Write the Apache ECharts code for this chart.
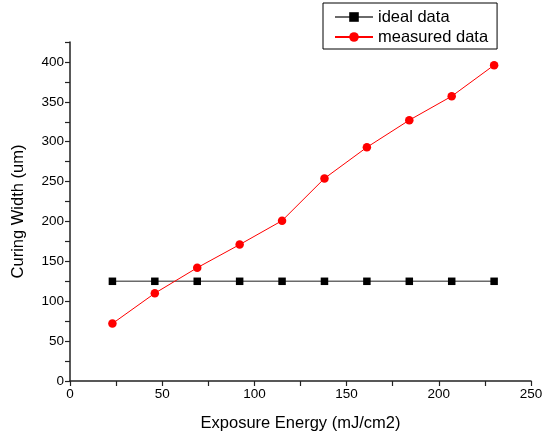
<!DOCTYPE html>
<html>
<head>
<meta charset="utf-8">
<script src="https://cdn.jsdelivr.net/npm/echarts@6/dist/echarts.min.js"></script>
<style>
  html, body { margin: 0; padding: 0; background: #fff; }
  #chart { width: 549px; height: 439px; }
</style>
</head>
<body>
<div id="chart"></div>
<script>
// exposure energy (mJ/cm2)
const energy = [23, 46, 69, 92, 115, 138, 161, 184, 207, 230]
const idealWidth = [125, 125, 125, 125, 125, 125, 125, 125, 125, 125]
const measuredWidth = [72, 110, 142, 171, 201, 254, 293, 327, 357, 396]
const xTicks = [0, 50, 100, 150, 200, 250]
const yTicks = [0, 50, 100, 150, 200, 250, 300, 350, 400]

const font = 'Liberation Sans, Arial, sans-serif'
const axisColor = '#222'

const chart = echarts.init(document.getElementById('chart'))

const pairs = (ys) => energy.map((x, i) => [x, ys[i]])

const option = {
  animation: false,
  backgroundColor: '#fff',
  textStyle: { fontFamily: font },
  grid: { left: 70, right: 18, top: 42, bottom: 58 },
  legend: {
    left: 323,
    top: 3,
    orient: 'vertical',
    padding: [5, 9, 3, 11],
    itemGap: 2,
    itemWidth: 38,
    itemHeight: 12,
    borderColor: '#000',
    borderWidth: 1,
    textStyle: { fontSize: 16.5, lineHeight: 18, color: '#000', fontFamily: font },
    data: ['ideal data', 'measured data']
  },
  xAxis: {
    type: 'value',
    min: 0,
    max: 250,
    interval: 50,
    name: 'Exposure Energy (mJ/cm2)',
    nameLocation: 'middle',
    nameGap: 34,
    nameTextStyle: { fontSize: 16.5, color: '#000', fontFamily: font },
    axisLine: { show: true, onZero: false, lineStyle: { color: axisColor, width: 1.5 } },
    axisTick: { show: true, inside: false, length: 5, lineStyle: { color: axisColor, width: 1.2 } },
    minorTick: { show: true, splitNumber: 2, length: 5, lineStyle: { color: axisColor, width: 1.2 } },
    splitLine: { show: false },
    axisLabel: {
      fontSize: 13.5, color: '#000', margin: 6,
      formatter: (v) => xTicks.includes(v) ? String(v) : ''
    }
  },
  yAxis: {
    type: 'value',
    min: 0,
    max: 425,
    interval: 50,
    name: 'Curing Width (um)',
    nameLocation: 'middle',
    nameGap: 43,
    nameTextStyle: { fontSize: 16.5, color: '#000', fontFamily: font },
    axisLine: { show: true, onZero: false, lineStyle: { color: axisColor, width: 1.5 } },
    axisTick: { show: true, inside: false, length: 5, lineStyle: { color: axisColor, width: 1.2 } },
    minorTick: { show: true, splitNumber: 2, length: 5, lineStyle: { color: axisColor, width: 1.2 } },
    splitLine: { show: false },
    axisLabel: {
      fontSize: 13.5, color: '#000', margin: 6,
      formatter: (v) => yTicks.includes(v) ? String(v) : ''
    }
  },
  series: [
    {
      name: 'ideal data',
      type: 'line',
      data: pairs(idealWidth),
      symbol: 'rect',
      symbolSize: 7.5,
      itemStyle: { color: '#000' },
      lineStyle: { color: '#6a6a6a', width: 1.5 },
      z: 2
    },
    {
      name: 'measured data',
      type: 'line',
      data: pairs(measuredWidth),
      symbol: 'circle',
      symbolSize: 8.5,
      itemStyle: { color: '#ff0000' },
      lineStyle: { color: '#ff0000', width: 1 },
      z: 3
    }
  ]
}

chart.setOption(option)
</script>
</body>
</html>
